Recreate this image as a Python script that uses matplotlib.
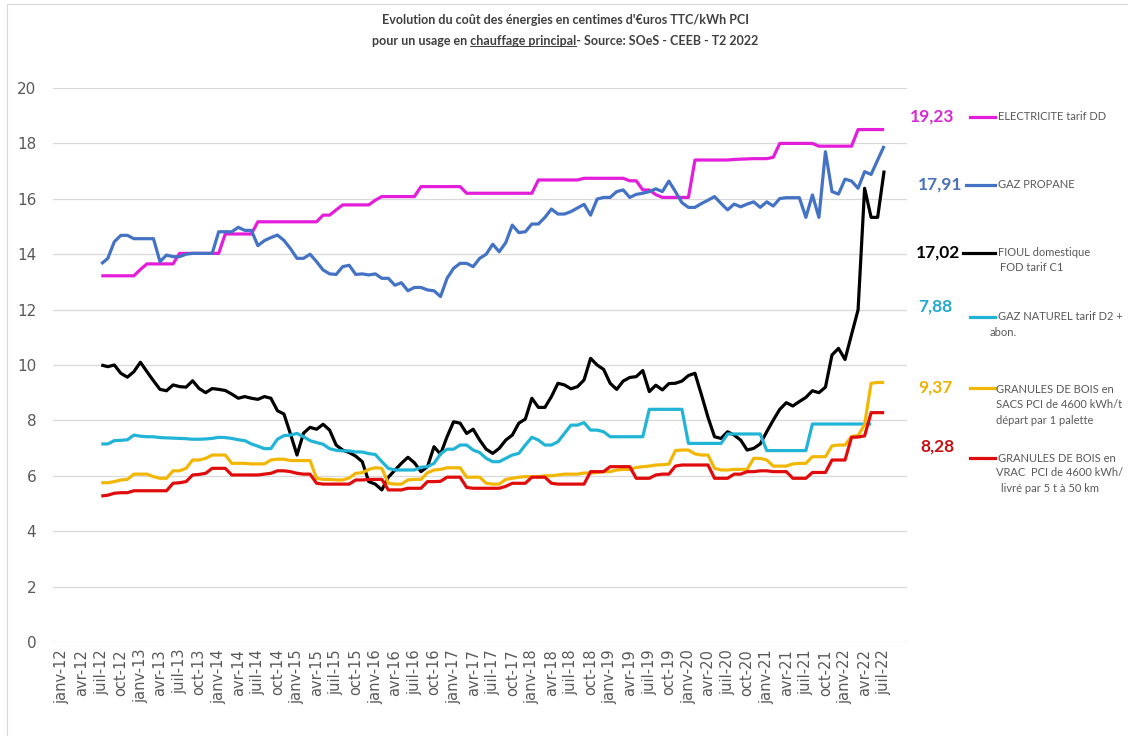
import numpy as np
import matplotlib.pyplot as plt
from matplotlib.lines import Line2D

W, H = 1128, 736
nan = np.nan

# months from juil-12 (index 0) to juil-22 (index 120)
MOIS = ["janv", "avr", "juil", "oct"]
tick_labels = [f"{MOIS[q % 4]}-{12 + q // 4}" for q in range(43)]  # janv-12 .. juil-22

electricite = [
    13.22, 13.22, 13.22, 13.22, 13.22, 13.22, 13.45, 13.65, 13.65, 13.65,
    13.65, 13.65, 14.03, 14.03, 14.03, 14.03, 14.03, 14.03, 14.03, 14.73,
    14.73, 14.73, 14.73, 14.73, 15.17, 15.17, 15.17, 15.17, 15.17, 15.17,
    15.17, 15.17, 15.17, 15.17, 15.41, 15.41, 15.6, 15.78, 15.78, 15.78,
    15.78, 15.78, 15.95, 16.08, 16.08, 16.08, 16.08, 16.08, 16.08, 16.44,
    16.44, 16.44, 16.44, 16.44, 16.44, 16.44, 16.2, 16.2, 16.2, 16.2,
    16.2, 16.2, 16.2, 16.2, 16.2, 16.2, 16.2, 16.68, 16.68, 16.68,
    16.68, 16.68, 16.68, 16.68, 16.74, 16.74, 16.74, 16.74, 16.74, 16.74,
    16.74, 16.65, 16.65, 16.32, 16.32, 16.15, 16.05, 16.05, 16.05, 16.05,
    16.05, 17.4, 17.4, 17.4, 17.4, 17.4, 17.4, 17.42, 17.43, 17.44,
    17.45, 17.45, 17.45, 17.5, 18.0, 18.0, 18.0, 18.0, 18.0, 18.0,
    17.9, 17.9, 17.9, 17.9, 17.9, 17.9, 18.5, 18.5, 18.5, 18.5,
    18.5,
]
propane = [
    13.65, 13.85, 14.45, 14.68, 14.68, 14.56, 14.56, 14.56, 14.56, 13.73,
    13.97, 13.91, 13.91, 14.0, 14.03, 14.03, 14.03, 14.03, 14.81, 14.81,
    14.81, 14.97, 14.86, 14.86, 14.31, 14.49, 14.6, 14.69, 14.5, 14.2,
    13.85, 13.85, 14.0, 13.73, 13.43, 13.29, 13.27, 13.55, 13.6, 13.27,
    13.29, 13.25, 13.29, 13.13, 13.13, 12.88, 12.97, 12.68, 12.8, 12.8,
    12.71, 12.68, 12.47, 13.13, 13.49, 13.67, 13.67, 13.55, 13.85, 14.0,
    14.36, 14.09, 14.42, 15.05, 14.78, 14.81, 15.09, 15.09, 15.33, 15.63,
    15.45, 15.45, 15.54, 15.67, 15.8, 15.41, 15.99, 16.05, 16.05, 16.26,
    16.32, 16.05, 16.16, 16.2, 16.26, 16.36, 16.26, 16.64, 16.26, 15.86,
    15.69, 15.69, 15.83, 15.95, 16.08, 15.83, 15.6, 15.81, 15.71, 15.81,
    15.89, 15.69, 15.89, 15.74, 16.01, 16.04, 16.04, 16.04, 15.33, 16.14,
    15.33, 17.7, 16.26, 16.17, 16.71, 16.64, 16.38, 16.98, 16.88, 17.4,
    17.91,
]
fioul = [
    10.0, 9.94, 10.0, 9.7, 9.56, 9.76, 10.1, 9.76, 9.43, 9.12,
    9.07, 9.28, 9.22, 9.2, 9.43, 9.15, 9.0, 9.15, 9.12, 9.08,
    8.95, 8.8, 8.86, 8.8, 8.76, 8.86, 8.8, 8.35, 8.23, 7.51,
    6.75, 7.54, 7.75, 7.68, 7.86, 7.65, 7.11, 6.93, 6.84, 6.71,
    6.51, 5.79, 5.7, 5.49, 5.95, 6.2, 6.45, 6.67, 6.47, 6.15,
    6.33, 7.05, 6.78, 7.41, 7.95, 7.9, 7.53, 7.68, 7.29, 6.96,
    6.81, 6.99, 7.29, 7.47, 7.9, 8.05, 8.8, 8.47, 8.47, 8.86,
    9.34, 9.28, 9.14, 9.22, 9.46, 10.24, 10.0, 9.84, 9.34, 9.12,
    9.42, 9.55, 9.58, 9.8, 9.04, 9.27, 9.1, 9.33, 9.34, 9.42,
    9.62, 9.7, 8.92, 8.11, 7.41, 7.35, 7.59, 7.47, 7.29, 6.93,
    6.99, 7.15, 7.59, 8.01, 8.4, 8.64, 8.52, 8.68, 8.83, 9.07,
    9.0, 9.2, 10.36, 10.6, 10.2, 11.1, 11.99, 16.38, 15.33, 15.33,
    17.02,
]
gaz_naturel = [
    7.15, 7.15, 7.27, 7.28, 7.3, 7.47, 7.43, 7.41, 7.41, 7.38,
    7.37, 7.36, 7.35, 7.34, 7.32, 7.32, 7.33, 7.35, 7.39, 7.38,
    7.35, 7.3, 7.27, 7.15, 7.07, 6.98, 6.98, 7.32, 7.45, 7.47,
    7.53, 7.41, 7.27, 7.2, 7.14, 6.98, 6.92, 6.9, 6.9, 6.86,
    6.86, 6.8, 6.77, 6.51, 6.27, 6.21, 6.21, 6.21, 6.21, 6.31,
    6.33, 6.45, 6.79, 6.96, 6.96, 7.11, 7.11, 6.93, 6.84, 6.63,
    6.51, 6.51, 6.63, 6.75, 6.81, 7.11, 7.39, 7.29, 7.11, 7.11,
    7.23, 7.53, 7.83, 7.83, 7.92, 7.65, 7.65, 7.59, 7.41, 7.41,
    7.41, 7.41, 7.41, 7.41, 8.4, 8.4, 8.4, 8.4, 8.4, 8.4,
    7.17, 7.17, 7.17, 7.17, 7.17, 7.17, 7.51, 7.51, 7.51, 7.51,
    7.51, 7.51, 6.91, 6.91, 6.91, 6.91, 6.91, 6.91, 6.91, 7.87,
    7.87, 7.87, 7.87, 7.87, 7.87, 7.87, 7.87, 7.87, 7.87, nan,
    nan,
]
granules_sacs = [
    5.75, 5.75, 5.79, 5.85, 5.87, 6.06, 6.06, 6.06, 5.97, 5.91,
    5.91, 6.18, 6.18, 6.27, 6.57, 6.57, 6.63, 6.75, 6.75, 6.75,
    6.45, 6.45, 6.45, 6.43, 6.43, 6.43, 6.57, 6.6, 6.6, 6.55,
    6.55, 6.55, 6.55, 5.91, 5.87, 5.87, 5.85, 5.85, 5.92, 6.09,
    6.11, 6.23, 6.29, 6.27, 5.73, 5.7, 5.7, 5.85, 5.87, 5.87,
    6.11, 6.21, 6.23, 6.29, 6.29, 6.29, 5.95, 5.95, 5.95, 5.73,
    5.7, 5.7, 5.87, 5.91, 5.95, 5.97, 5.97, 5.97, 6.0, 6.0,
    6.03, 6.06, 6.06, 6.06, 6.1, 6.1, 6.12, 6.15, 6.15, 6.21,
    6.23, 6.23, 6.3, 6.33, 6.35, 6.39, 6.4, 6.42, 6.91, 6.93,
    6.93, 6.79, 6.75, 6.75, 6.27, 6.21, 6.21, 6.23, 6.23, 6.23,
    6.63, 6.63, 6.57, 6.35, 6.35, 6.35, 6.43, 6.45, 6.45, 6.69,
    6.69, 6.69, 7.08, 7.11, 7.11, 7.42, 7.45, 7.85, 9.34, 9.37,
    9.37,
]
granules_vrac = [
    5.27, 5.3, 5.37, 5.39, 5.39, 5.46, 5.46, 5.46, 5.46, 5.46,
    5.46, 5.73, 5.75, 5.79, 6.03, 6.05, 6.09, 6.27, 6.27, 6.27,
    6.03, 6.03, 6.03, 6.03, 6.03, 6.06, 6.09, 6.18, 6.18, 6.15,
    6.09, 6.06, 6.06, 5.73, 5.7, 5.7, 5.7, 5.7, 5.7, 5.85,
    5.85, 5.87, 5.87, 5.87, 5.49, 5.49, 5.49, 5.55, 5.55, 5.55,
    5.79, 5.79, 5.8, 5.95, 5.95, 5.95, 5.58, 5.55, 5.55, 5.55,
    5.55, 5.55, 5.62, 5.73, 5.73, 5.73, 5.95, 5.95, 5.95, 5.73,
    5.7, 5.7, 5.7, 5.7, 5.7, 6.15, 6.15, 6.15, 6.33, 6.33,
    6.33, 6.33, 5.91, 5.91, 5.91, 6.03, 6.06, 6.06, 6.35, 6.39,
    6.39, 6.39, 6.39, 6.39, 5.91, 5.91, 5.91, 6.06, 6.06, 6.15,
    6.15, 6.18, 6.18, 6.15, 6.15, 6.15, 5.91, 5.91, 5.91, 6.12,
    6.12, 6.12, 6.57, 6.57, 6.57, 7.39, 7.4, 7.44, 8.28, 8.28,
    8.28,
]

series = [electricite, propane, fioul, gaz_naturel, granules_sacs, granules_vrac]
line_colors = ["#E41DDA", "#4472C4", "#000000", "#22B4D6", "#F2B705", "#E00C0C"]
value_colors = ["#D42AD0", "#4A72B8", "#000000", "#21A9CF", "#EDB100", "#C81010"]
last_values = ["19,23", "17,91", "17,02", "7,88", "9,37", "8,28"]
legend_lines = [
    ["ELECTRICITE tarif DD"],
    ["GAZ PROPANE"],
    ["FIOUL domestique", "FOD tarif C1"],
    ["GAZ NATUREL tarif D2 +", "abon."],
    ["GRANULES DE BOIS en", "SACS PCI de 4600 kWh/t", "départ par 1 palette"],
    ["GRANULES DE BOIS en", "VRAC  PCI de 4600 kWh/", " livré par 5 t à 50 km"],
]

GREY = "#595959"
fig = plt.figure(figsize=(W / 100, H / 100), dpi=100)
ax = fig.add_axes([53 / W, 1 - 642 / H, (907 - 53) / W, (642 - 88) / H])

x = np.arange(len(electricite))
for vals, c in zip(series, line_colors):
    ax.plot(x, vals, color=c, lw=2.3, solid_capstyle="butt")

ax.set_xlim(-7.4, 123.5)
ax.set_ylim(0, 20)
ax.set_yticks(range(0, 21, 2))
ax.set_xticks(np.arange(-6, 121, 3))
ax.set_xticklabels(tick_labels, rotation=90, fontsize=10.5, color=GREY)
ax.tick_params(axis="y", length=0, pad=12, labelsize=11, labelcolor=GREY)
ax.tick_params(axis="x", length=0, pad=5)
ax.yaxis.grid(True, color="#d9d9d9", lw=0.9)
ax.set_axisbelow(True)
for s in ax.spines.values():
    s.set_visible(False)

# ------------------------------
# Title
title_kw = dict(ha="center", va="center", fontsize=9, fontweight="bold",
                family="Lato", color="#404040")
fig.text(565 / W, 1 - 20 / H, "Evolution du coût des énergies en centimes d'€uros TTC/kWh PCI", **title_kw)
line2 = "pour un usage en chauffage principal- Source: SOeS - CEEB - T2 2022"
t2 = fig.text(565 / W, 1 - 41 / H, line2, **title_kw)

r = fig.canvas.get_renderer()


def text_width(s):
    t = fig.text(0, 0, s, **title_kw)
    w = t.get_window_extent(r).width
    t.remove()
    return w


bb = t2.get_window_extent(r)
x1 = bb.x0 + text_width("pour un usage en chauffage principal")
x0 = x1 - text_width("chauffage principal")
fig.add_artist(Line2D([x0 / W, x1 / W], [(bb.y0 + 1.5) / H] * 2, color="#404040", lw=0.7))

# ------------------------------
# Right-hand labels
num_pos = [(932, 117), (940, 185), (938, 253), (935, 307), (935, 388), (937, 447)]
seg_pos = [(970, 117), (966, 185), (963, 253), (970, 317), (970, 388), (970, 458)]
txt_pos = [
    [(998, 117)],
    [(998, 185)],
    [(998, 253), (1000, 268)],
    [(998, 317), (990, 333)],
    [(996, 389), (996, 405), (996, 420)],
    [(998, 458), (996, 473), (998, 488)],
]
for i in range(len(series)):
    nx, ny = num_pos[i]
    fig.text(nx / W, 1 - ny / H, last_values[i], ha="center", va="center",
             fontsize=12.5, fontweight="bold", family="Lato", color=value_colors[i])
    sx, sy = seg_pos[i]
    fig.add_artist(Line2D([sx / W, 995 / W], [1 - sy / H] * 2, color=line_colors[i], lw=2.3))
    for txt, (tx, ty) in zip(legend_lines[i], txt_pos[i]):
        fig.text(tx / W, 1 - ty / H, txt, ha="left", va="center",
                 fontsize=8, family="Lato", color=GREY)

# faint frame around the picture
fig.add_artist(Line2D([7 / W, 7 / W], [0, 1 - 4 / H], color="#d9d9d9", lw=0.8))
fig.add_artist(Line2D([7 / W, 1], [1 - 4 / H] * 2, color="#d9d9d9", lw=0.8))

fig.savefig("out.png", dpi=100)
